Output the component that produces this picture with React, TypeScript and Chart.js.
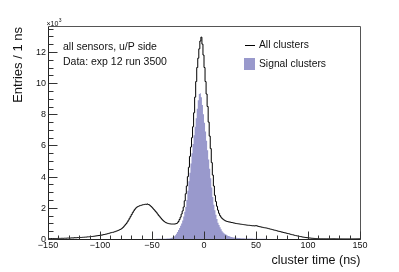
import React, { useEffect, useRef } from "react";
import { Chart, registerables } from "chart.js";

Chart.register(...registerables);

// ---- data (thousands of entries per 1 ns bin, bins start at binStart) ----
const binStart = -150;
const binWidth = 1;

const allClusters = [
  // -150 .. -141
  0.02, 0.02, 0.02, 0.03, 0.02, 0.03, 0.03, 0.03, 0.03, 0.04,
  // -140 .. -131
  0.04, 0.04, 0.04, 0.05, 0.04, 0.05, 0.05, 0.05, 0.06, 0.06,
  // -130 .. -121
  0.06, 0.06, 0.07, 0.07, 0.07, 0.08, 0.08, 0.08, 0.09, 0.09,
  // -120 .. -111
  0.09, 0.10, 0.10, 0.11, 0.11, 0.12, 0.12, 0.13, 0.14, 0.14,
  // -110 .. -101
  0.15, 0.16, 0.16, 0.17, 0.18, 0.19, 0.20, 0.21, 0.22, 0.23,
  // -100 .. -91
  0.24, 0.25, 0.26, 0.28, 0.29, 0.31, 0.32, 0.34, 0.36, 0.38,
  // -90 .. -81
  0.40, 0.42, 0.43, 0.45, 0.47, 0.50, 0.52, 0.55, 0.58, 0.61,
  // -80 .. -71
  0.65, 0.70, 0.76, 0.84, 0.92, 1.00, 1.10, 1.21, 1.33, 1.45,
  // -70 .. -61
  1.57, 1.69, 1.80, 1.90, 1.98, 2.04, 2.08, 2.11, 2.14, 2.16,
  // -60 .. -51
  2.18, 2.20, 2.21, 2.23, 2.22, 2.25, 2.21, 2.19, 2.13, 2.07,
  // -50 .. -41
  2.00, 1.92, 1.85, 1.77, 1.69, 1.60, 1.51, 1.43, 1.35, 1.27,
  // -40 .. -31
  1.20, 1.14, 1.09, 1.05, 1.02, 1.00, 0.98, 0.97, 0.96, 0.96,
  // -30 .. -21
  0.96, 0.96, 0.97, 0.99, 1.03, 1.12, 1.25, 1.40, 1.60, 1.80,
  // -20 .. -11
  2.05, 2.45, 2.90, 3.40, 4.00, 4.60, 5.30, 5.90, 6.50, 7.20,
  // -10 .. -1
  8.10, 9.10, 10.10, 11.00, 11.60, 12.20, 12.70, 12.95, 12.50, 11.80,
  // 0 .. 9
  11.00, 10.10, 9.30, 8.50, 7.50, 6.60, 5.80, 4.90, 4.10, 3.40,
  // 10 .. 19
  2.80, 2.40, 2.10, 1.85, 1.65, 1.50, 1.40, 1.32, 1.26, 1.21,
  // 20 .. 29
  1.17, 1.14, 1.12, 1.10, 1.09, 1.08, 1.06, 1.05, 1.03, 1.02,
  // 30 .. 39
  1.00, 0.99, 0.98, 0.97, 0.96, 0.95, 0.94, 0.93, 0.92, 0.91,
  // 40 .. 49
  0.90, 0.89, 0.88, 0.88, 0.87, 0.86, 0.85, 0.85, 0.84, 0.85,
  // 50 .. 59
  0.85, 0.83, 0.81, 0.79, 0.78, 0.76, 0.75, 0.73, 0.72, 0.71,
  // 60 .. 69
  0.70, 0.68, 0.66, 0.64, 0.63, 0.61, 0.59, 0.57, 0.56, 0.54,
  // 70 .. 79
  0.52, 0.50, 0.49, 0.47, 0.45, 0.44, 0.42, 0.40, 0.39, 0.37,
  // 80 .. 89
  0.35, 0.34, 0.32, 0.30, 0.28, 0.27, 0.25, 0.23, 0.22, 0.20,
  // 90 .. 99
  0.19, 0.17, 0.16, 0.15, 0.13, 0.12, 0.11, 0.10, 0.09, 0.08,
  // 100 .. 109
  0.070, 0.065, 0.060, 0.050, 0.045, 0.040, 0.035, 0.030, 0.030, 0.025,
  // 110 .. 119
  0.025, 0.020, 0.020, 0.020, 0.018, 0.018, 0.016, 0.015, 0.015, 0.014,
  // 120 .. 129
  0.013, 0.013, 0.012, 0.012, 0.011, 0.011, 0.010, 0.010, 0.010, 0.010,
  // 130 .. 139
  0.010, 0.010, 0.010, 0.010, 0.010, 0.010, 0.010, 0.010, 0.010, 0.010,
  // 140 .. 149
  0.010, 0.010, 0.010, 0.010, 0.010, 0.010, 0.010, 0.010, 0.010, 0.010,
];

const signalClusters = [
  // -150 .. -141
  0, 0, 0, 0, 0, 0, 0, 0, 0, 0,
  // -140 .. -131
  0, 0, 0, 0, 0, 0, 0, 0, 0, 0,
  // -130 .. -121
  0, 0, 0, 0, 0, 0, 0, 0, 0, 0,
  // -120 .. -111
  0, 0, 0, 0, 0, 0, 0, 0, 0, 0,
  // -110 .. -101
  0, 0, 0, 0, 0, 0, 0, 0, 0, 0,
  // -100 .. -91
  0, 0, 0, 0, 0, 0, 0, 0, 0, 0,
  // -90 .. -81
  0, 0, 0, 0, 0, 0, 0, 0, 0, 0,
  // -80 .. -71
  0, 0, 0, 0, 0, 0, 0, 0, 0, 0,
  // -70 .. -61
  0.001, 0.001, 0.001, 0.001, 0.002, 0.002, 0.002, 0.002, 0.003, 0.003,
  // -60 .. -51
  0.003, 0.003, 0.004, 0.004, 0.004, 0.005, 0.005, 0.005, 0.006, 0.006,
  // -50 .. -41
  0.005, 0.006, 0.007, 0.008, 0.009, 0.010, 0.011, 0.012, 0.013, 0.014,
  // -40 .. -31
  0.015, 0.016, 0.018, 0.020, 0.025, 0.030, 0.040, 0.050, 0.065, 0.090,
  // -30 .. -21
  0.12, 0.17, 0.24, 0.33, 0.45, 0.57, 0.70, 0.85, 1.00, 1.18,
  // -20 .. -11
  1.45, 1.75, 2.05, 2.50, 3.10, 3.70, 4.25, 4.85, 5.50, 6.10,
  // -10 .. -1
  6.65, 7.20, 7.75, 8.35, 8.90, 9.30, 9.35, 9.10, 8.60, 8.00,
  // 0 .. 9
  7.45, 6.90, 6.30, 5.70, 5.10, 4.50, 3.90, 3.30, 2.70, 2.20,
  // 10 .. 19
  1.85, 1.55, 1.28, 1.05, 0.90, 0.75, 0.62, 0.50, 0.42, 0.36,
  // 20 .. 29
  0.31, 0.27, 0.23, 0.20, 0.17, 0.15, 0.13, 0.11, 0.10, 0.09,
  // 30 .. 39
  0.080, 0.075, 0.070, 0.065, 0.060, 0.055, 0.050, 0.045, 0.042, 0.040,
  // 40 .. 49
  0.038, 0.035, 0.033, 0.030, 0.028, 0.026, 0.025, 0.023, 0.022, 0.020,
  // 50 .. 59
  0.019, 0.018, 0.017, 0.016, 0.015, 0.014, 0.013, 0.012, 0.011, 0.010,
  // 60 .. 69
  0.009, 0.008, 0.008, 0.007, 0.007, 0.006, 0.006, 0.005, 0.005, 0.005,
  // 70 .. 79
  0.004, 0.004, 0.004, 0.003, 0.003, 0.003, 0.003, 0.002, 0.002, 0.002,
  // 80 .. 89
  0.002, 0.002, 0.001, 0.001, 0.001, 0.001, 0.001, 0.001, 0.001, 0.001,
  // 90 .. 99
  0, 0, 0, 0, 0, 0, 0, 0, 0, 0,
  // 100 .. 109
  0, 0, 0, 0, 0, 0, 0, 0, 0, 0,
  // 110 .. 119
  0, 0, 0, 0, 0, 0, 0, 0, 0, 0,
  // 120 .. 129
  0, 0, 0, 0, 0, 0, 0, 0, 0, 0,
  // 130 .. 139
  0, 0, 0, 0, 0, 0, 0, 0, 0, 0,
  // 140 .. 149
  0, 0, 0, 0, 0, 0, 0, 0, 0, 0,
];

const xRange = [-150, 150];
const yRange = [0, 13.6];
const xMajorTicks = [-150, -100, -50, 0, 50, 100, 150];
const xMinorStep = 10;
const yMajorTicks = [0, 2, 4, 6, 8, 10, 12];
const yMinorStep = 0.5;

const seriesLabels = ["All clusters", "Signal clusters"];
const infoLines = ["all sensors, u/P side", "Data: exp 12 run 3500"];
const xTitle = "cluster time (ns)";
const yTitle = "Entries / 1 ns";

const FONT = '"Liberation Sans", Arial, Helvetica, sans-serif';
const SIGNAL_COLOR = "#9999cc";

function toHistPoints(values: number[]) {
  const pts = values.map((v, i) => ({ x: binStart + i * binWidth, y: v }));
  pts.push({ x: binStart + values.length * binWidth, y: values[values.length - 1] });
  return pts;
}

function fmt(v: number) {
  return v < 0 ? "\u2212" + String(-v) : String(v);
}

const rootStyle = {
  id: "rootStyle",
  afterDraw(chart: any) {
    const { ctx, chartArea: a, scales } = chart;
    const xs = scales.x;
    const ys = scales.y;
    const L = Math.round(a.left) + 0.5;
    const R = Math.round(a.right) + 0.5;
    const T = Math.round(a.top) - 0.5;
    const B = Math.round(a.bottom) + 0.5;
    ctx.save();

    // frame
    ctx.lineWidth = 1;
    ctx.strokeStyle = "#555";
    ctx.beginPath();
    ctx.moveTo(L, T);
    ctx.lineTo(R, T);
    ctx.lineTo(R, B);
    ctx.stroke();
    ctx.strokeStyle = "#222";
    ctx.beginPath();
    ctx.moveTo(L, T);
    ctx.lineTo(L, B);
    ctx.lineTo(R, B);
    ctx.stroke();

    // x ticks (inward)
    ctx.strokeStyle = "#333";
    ctx.beginPath();
    for (let v = xRange[0]; v <= xRange[1] + 1e-9; v += xMinorStep) {
      const px = Math.round(xs.getPixelForValue(v)) + 0.5;
      const major = xMajorTicks.includes(v);
      ctx.moveTo(px, B);
      ctx.lineTo(px, B - (major ? 8 : 4));
    }
    // y ticks (inward)
    for (let v = yRange[0]; v <= yRange[1] + 1e-9; v += yMinorStep) {
      const py = Math.round(ys.getPixelForValue(v)) + 0.5;
      const major = yMajorTicks.includes(v);
      ctx.moveTo(L, py);
      ctx.lineTo(L + (major ? 9 : 5), py);
    }
    ctx.stroke();

    // tick labels
    ctx.fillStyle = "#111";
    ctx.font = `9px ${FONT}`;
    ctx.textAlign = "center";
    ctx.textBaseline = "middle";
    for (const v of xMajorTicks) {
      ctx.fillText(fmt(v), xs.getPixelForValue(v), 245.5);
    }
    ctx.textAlign = "right";
    for (const v of yMajorTicks) {
      ctx.fillText(String(v), L - 2.5, ys.getPixelForValue(v) + 0.5);
    }

    // x10^3 multiplier
    ctx.textAlign = "left";
    ctx.textBaseline = "alphabetic";
    ctx.font = `7px ${FONT}`;
    const mult = "\u00d710";
    ctx.fillText(mult, 46.5, 25.5);
    const mw = ctx.measureText(mult).width;
    ctx.font = `5px ${FONT}`;
    ctx.fillText("3", 46.5 + mw + 0.3, 22);

    // axis titles
    ctx.font = `12.5px ${FONT}`;
    ctx.textAlign = "right";
    ctx.fillText(xTitle, R, 264);
    ctx.save();
    ctx.translate(21.5, T + 0.5);
    ctx.rotate(-Math.PI / 2);
    ctx.font = `13px ${FONT}`;
    ctx.textAlign = "right";
    ctx.fillText(yTitle, 0, 0);
    ctx.restore();

    // info text
    ctx.font = `10.5px ${FONT}`;
    ctx.textAlign = "left";
    ctx.textBaseline = "middle";
    ctx.fillText(infoLines[0], 63, 47);
    ctx.fillText(infoLines[1], 63, 62);

    // legend
    ctx.font = `10.3px ${FONT}`;
    ctx.fillText(seriesLabels[0], 259, 45.5);
    ctx.fillText(seriesLabels[1], 259, 64.5);
    ctx.strokeStyle = "#000";
    ctx.beginPath();
    ctx.moveTo(245, 45.5);
    ctx.lineTo(255, 45.5);
    ctx.stroke();
    ctx.fillStyle = SIGNAL_COLOR;
    ctx.fillRect(244, 58, 11, 12);

    ctx.restore();
  },
};

export default function App() {
  const canvasRef = useRef<HTMLCanvasElement | null>(null);

  useEffect(() => {
    const canvas = canvasRef.current;
    if (!canvas) return;
    const chart = new Chart(canvas, {
      type: "line",
      data: {
        datasets: [
          {
            label: seriesLabels[0],
            data: toHistPoints(allClusters),
            stepped: true,
            borderColor: "#000",
            borderWidth: 1,
            pointRadius: 0,
            fill: false,
            order: 0,
          },
          {
            label: seriesLabels[1],
            data: toHistPoints(signalClusters),
            stepped: true,
            borderColor: "rgba(0,0,0,0)",
            borderWidth: 0,
            backgroundColor: SIGNAL_COLOR,
            pointRadius: 0,
            fill: "origin",
            order: 1,
          },
        ],
      },
      options: {
        responsive: false,
        animation: false,
        devicePixelRatio: 1,
        parsing: false,
        normalized: true,
        layout: { padding: { left: 48, right: 39, top: 27, bottom: 33 } },
        plugins: {
          legend: { display: false },
          tooltip: { enabled: false },
        },
        scales: {
          x: { type: "linear", min: xRange[0], max: xRange[1], display: false },
          y: { type: "linear", min: yRange[0], max: yRange[1], display: false },
        },
      },
      plugins: [rootStyle],
    });
    return () => chart.destroy();
  }, []);

  return (
    <div style={{ position: "fixed", left: 0, top: 0, width: 399, height: 272, background: "#fff" }}>
      <canvas ref={canvasRef} width={399} height={272} style={{ display: "block" }} />
    </div>
  );
}
